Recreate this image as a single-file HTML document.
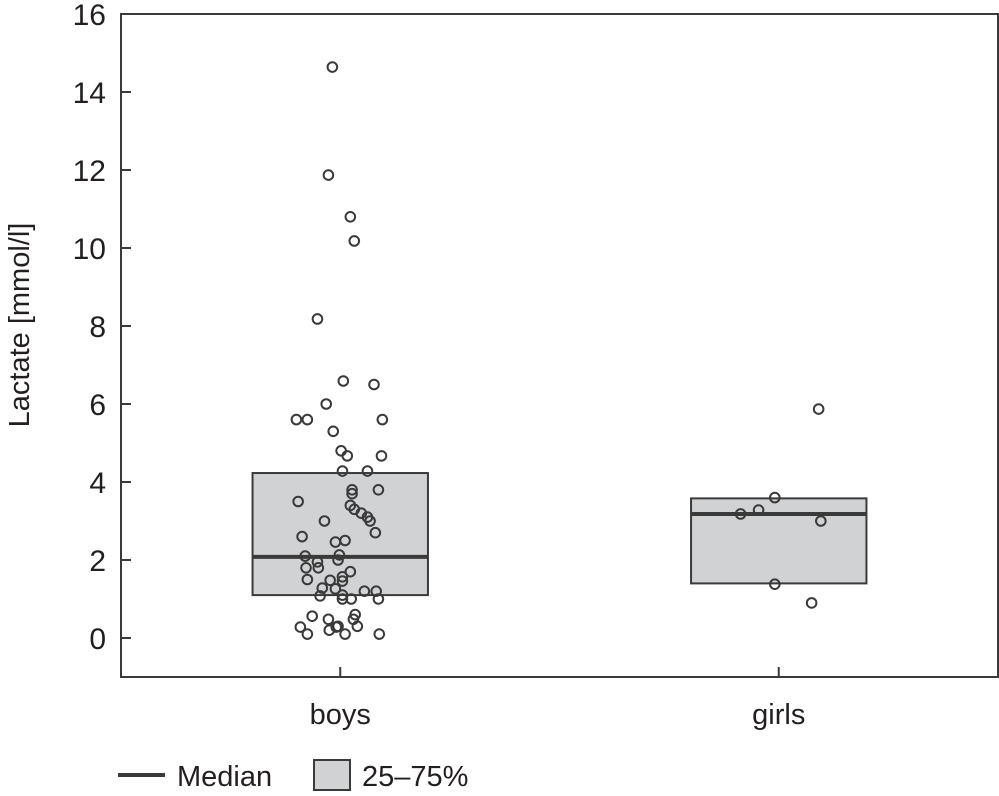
<!DOCTYPE html>
<html><head><meta charset="utf-8"><style>
body{margin:0;background:#fff;width:999px;height:791px;overflow:hidden}
svg{font-family:"Liberation Sans Narrow","Liberation Sans",sans-serif}
</style></head><body>
<svg id="chart" width="999" height="791"></svg>
<script>
const categories=["boys","girls"];
const yTicks=[0,2,4,6,8,10,12,14,16];
const boysValues=[14.64,11.87,10.8,10.18,8.18,6.59,6.5,6.0,5.6,5.6,5.6,5.3,4.8,4.67,4.67,4.28,4.28,3.8,3.7,3.8,3.5,3.4,3.3,3.2,3.1,3.0,3.0,2.7,2.6,2.46,2.5,2.1,1.95,2.13,2.0,1.8,1.8,1.5,1.7,1.57,1.46,1.48,1.28,1.26,1.08,1.1,1.0,1.0,1.2,1.2,1.0,0.56,0.6,0.48,0.48,0.28,0.1,0.2,0.28,0.3,0.3,0.1,0.1];
const boysJitter=[-0.018,-0.027,0.023,0.032,-0.052,0.007,0.077,-0.032,-0.1,-0.075,0.096,-0.016,0.002,0.016,0.094,0.005,0.062,0.027,0.027,0.087,-0.096,0.023,0.032,0.048,0.062,0.068,-0.036,0.08,-0.087,-0.011,0.011,-0.08,-0.052,-0.002,-0.005,-0.078,-0.05,-0.075,0.023,0.005,0.005,-0.023,-0.041,-0.011,-0.046,0.005,0.005,0.025,0.055,0.082,0.087,-0.064,0.034,0.03,-0.027,-0.091,-0.075,-0.025,-0.009,-0.005,0.039,0.011,0.089];
const girlsValues=[5.87,3.6,3.28,3.18,3.0,1.38,0.9];
const girlsJitter=[0.091,-0.009,-0.046,-0.087,0.096,-0.009,0.075];
const q1=[1.1,1.4];
const q3=[4.23,3.58];
const medians=[2.08,3.18];
const L=121,R=998,T=14,B=677;
const ymin=-1,ymax=16;
const y=v=>B-(v-ymin)/(ymax-ymin)*(B-T);
const x=c=>L+(c+0.5)/2*(R-L);
const svg=document.getElementById('chart');
const NS='http://www.w3.org/2000/svg';
function mk(tag,at,parent){const e=document.createElementNS(NS,tag);for(const k in at)e.setAttribute(k,at[k]);(parent||svg).appendChild(e);return e;}
for(let i=0;i<2;i++){
 const bw=0.2*(R-L)/2;
 const r=mk('rect',{x:x(i)-bw,y:y(q3[i]),width:2*bw,height:y(q1[i])-y(q3[i]),fill:'#d1d2d4',stroke:'#3a3a3a','stroke-width':2});
 
 
 const m=mk('line',{x1:x(i)-bw,x2:x(i)+bw,y1:y(medians[i]),y2:y(medians[i]),stroke:'#3a3a3a','stroke-width':4});
 
 
}
const fr=mk('rect',{x:L,y:T,width:R-L,height:B-T,fill:'none',stroke:'#3a3a3a','stroke-width':2});


yTicks.forEach(t=>{
 const tk=mk('line',{x1:L,x2:L+10,y1:y(t),y2:y(t),stroke:'#3a3a3a','stroke-width':2});
 
 
 const tx=mk('text',{x:106,y:y(t)+11,'text-anchor':'end','font-size':30,fill:'#231f20'});
 tx.textContent=t;
 
 
});
categories.forEach((c,i)=>{
 const tk=mk('line',{x1:x(i),x2:x(i),y1:B,y2:B-10,stroke:'#3a3a3a','stroke-width':2});
 
 
 const tx=mk('text',{x:x(i),y:724,'text-anchor':'middle','font-size':29,fill:'#231f20'});
 tx.textContent=c;
 
 
});
const yt=mk('text',{transform:'translate(29,325) rotate(-90)','text-anchor':'middle','font-size':29,fill:'#231f20'});
yt.textContent='Lactate [mmol/l]';


function pts(vals,jit,i){vals.forEach((v,k)=>{
 const p=mk('circle',{cx:x(i)+jit[k]*(R-L)/2,cy:y(v),r:4.8,fill:'none',stroke:'#3a3a3a','stroke-width':2});
 
 
});}
pts(boysValues,boysJitter,0);
pts(girlsValues,girlsJitter,1);
const ll=mk('line',{x1:118,x2:165,y1:775,y2:775,stroke:'#3a3a3a','stroke-width':4});


const lt=mk('text',{x:177,y:786,'font-size':29,fill:'#231f20'});
lt.textContent='Median';


const lb=mk('rect',{x:314,y:760,width:36,height:30,fill:'#d1d2d4',stroke:'#3a3a3a','stroke-width':2});


const lt2=mk('text',{x:362,y:786,'font-size':29,fill:'#231f20'});
lt2.textContent='25–75%';


</script>
</body></html>
